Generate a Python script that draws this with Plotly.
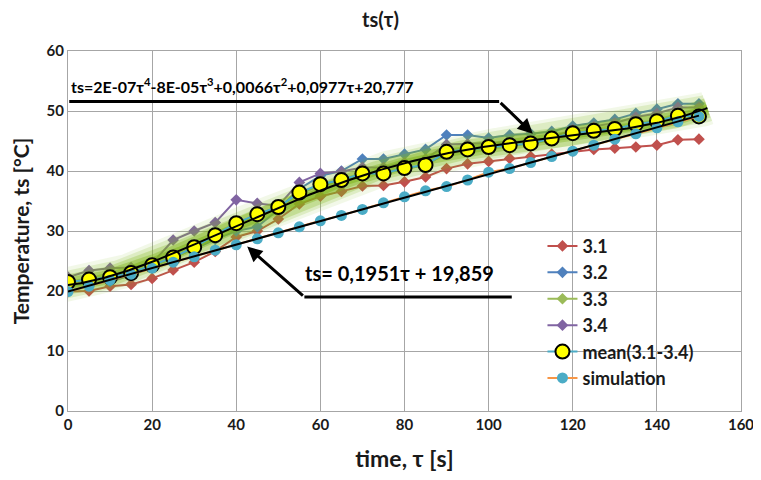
import numpy as np
import plotly.graph_objects as go

tau = [0, 5, 10, 15, 20, 25, 30, 35, 40, 45, 50, 55, 60, 65, 70, 75, 80, 85, 90, 95,
       100, 105, 110, 115, 120, 125, 130, 135, 140, 145, 150]

s31 = [19.9, 20.0, 20.8, 21.1, 22.1, 23.5, 24.8, 26.6, 29.0, 30.0, 32.0, 34.5, 35.8, 36.6,
       37.5, 37.6, 38.2, 39.0, 40.4, 41.2, 41.6, 42.1, 42.4, 42.8, 43.3, 43.6, 43.8, 44.0,
       44.3, 45.2, 45.3]
s32 = [21.0, 21.2, 21.6, 22.6, 24.0, 25.6, 27.0, 28.6, 30.0, 30.7, 33.6, 37.0, 39.2, 40.0,
       42.0, 42.0, 42.8, 43.6, 46.0, 46.0, 45.5, 46.0, 46.2, 46.6, 47.5, 48.0, 48.6, 49.6,
       50.3, 51.2, 51.2]
s33 = [21.5, 21.8, 22.2, 22.9, 24.2, 25.4, 27.2, 29.0, 31.0, 32.5, 34.0, 36.2, 37.6, 38.3,
       39.4, 39.5, 40.4, 40.9, 43.0, 43.5, 44.0, 44.3, 44.6, 45.3, 46.2, 46.6, 47.0, 47.8,
       48.3, 49.2, 49.2]
s34 = [22.3, 23.4, 23.8, 23.9, 24.6, 28.5, 30.0, 31.4, 35.2, 34.6, 34.2, 38.1, 39.6, 39.9,
       40.6, 40.6, 41.4, 42.0, 44.4, 44.5, 44.6, 44.8, 45.1, 45.6, 46.9, 47.4, 48.0, 49.0,
       49.6, 50.6, 50.6]
mean = [21.5, 21.9, 22.3, 23.0, 24.3, 25.6, 27.3, 29.3, 31.3, 32.8, 34.0, 36.4, 37.8, 38.5,
        39.6, 39.6, 40.5, 41.0, 43.2, 43.6, 44.0, 44.3, 44.6, 45.4, 46.3, 46.7, 47.0, 47.8,
        48.3, 49.2, 49.1]
sim = [19.9, 20.8, 21.8, 22.8, 23.8, 24.8, 25.7, 26.8, 27.7, 28.7, 29.7, 30.7, 31.7, 32.6,
       33.6, 34.7, 35.7, 36.7, 37.4, 38.5, 39.8, 40.4, 41.4, 42.4, 43.3, 44.3, 45.3, 46.2,
       47.2, 48.2, 49.1]

eq_poly = "ts=2E-07τ<sup>4</sup>-8E-05τ<sup>3</sup>+0,0066τ<sup>2</sup>+0,0977τ+20,777"
eq_lin = "ts= 0,1951τ + 19,859"

FONT = "Lato, Roboto, sans-serif"
TXT = "#1a1a1a"

fig = go.Figure()

def series(name, y, color):
    fig.add_trace(go.Scatter(
        x=tau, y=y, name="<b>" + name + "</b>", mode="lines+markers",
        line=dict(color=color, width=2),
        marker=dict(symbol="diamond", size=9, color=color),
    ))

series("3.1", s31, "#C0504D")
series("3.2", s32, "#4F81BD")
series("3.3", s33, "#9BBB59")
series("3.4", s34, "#8064A2")

# trendlines
tt = np.linspace(-2, 152, 309)
pc = np.polyfit(tau, mean, 4)
poly_y = np.polyval(pc, tt)
tl = np.linspace(0, 150, 301)
lc = np.polyfit(tau, sim, 1)
lin_y = np.polyval(lc, tl)

# glow around polynomial trendline
for w, a in [(34, 0.10), (27, 0.18), (20, 0.28), (14, 0.40), (8, 0.55)]:
    fig.add_trace(go.Scatter(
        x=tt, y=poly_y, mode="lines", showlegend=False, hoverinfo="skip",
        line=dict(color=f"rgba(130,182,30,{a})", width=w),
    ))

fig.add_trace(go.Scatter(
    x=tau, y=mean, name="<b>mean(3.1-3.4)</b>", mode="lines+markers",
    line=dict(color="#4BACC6", width=2),
    marker=dict(symbol="circle", size=14, color="#FFFF00",
                line=dict(color="black", width=2)),
))
fig.add_trace(go.Scatter(
    x=tau, y=sim, name="<b>simulation</b>", mode="lines+markers",
    line=dict(color="#F79646", width=2),
    marker=dict(symbol="circle", size=11, color="#4BACC6"),
))

fig.add_trace(go.Scatter(
    x=tt, y=poly_y, mode="lines", showlegend=False, hoverinfo="skip",
    line=dict(color="black", width=2),
))
fig.add_trace(go.Scatter(
    x=tl, y=lin_y, mode="lines", showlegend=False, hoverinfo="skip",
    line=dict(color="black", width=2),
))

# callout lines
fig.add_shape(type="line", xref="x", yref="y", x0=0.3, y0=51.6, x1=102.5, y1=51.6,
              line=dict(color="black", width=3))
fig.add_shape(type="line", xref="x", yref="y", x0=56.2, y0=19.0, x1=105.5, y1=19.0,
              line=dict(color="black", width=3))

fig.add_annotation(x=110.5, y=46.2, ax=102.5, ay=51.6, xref="x", yref="y",
                   axref="x", ayref="y", text="", showarrow=True, arrowhead=2,
                   arrowsize=1, arrowwidth=3, arrowcolor="black", standoff=0)
fig.add_annotation(x=42.6, y=27.4, ax=56.2, ay=19.0, xref="x", yref="y",
                   axref="x", ayref="y", text="", showarrow=True, arrowhead=2,
                   arrowsize=1, arrowwidth=3, arrowcolor="black", standoff=0)

fig.add_annotation(x=0.3, y=54.3, xref="x", yref="y", text="<b>" + eq_poly + "</b>",
                   showarrow=False, xanchor="left", yanchor="middle",
                   font=dict(family=FONT, size=16, color="black"))
fig.add_annotation(x=78.8, y=23.0, xref="x", yref="y", text="<b>" + eq_lin + "</b>",
                   showarrow=False, xanchor="center", yanchor="middle",
                   font=dict(family=FONT, size=20, color="black"))

fig.update_layout(
    width=745, height=464,
    margin=dict(l=60, r=12, t=43, b=61),
    paper_bgcolor="white", plot_bgcolor="white",
    title=dict(text="<b>ts(τ)</b>", x=0.5, xanchor="center", y=0.974, yanchor="middle",
               font=dict(family=FONT, size=20, color=TXT)),
    font=dict(family=FONT, color=TXT),
    showlegend=True,
    legend=dict(x=0.705, y=0.509, xanchor="left", yanchor="top",
                bgcolor="rgba(0,0,0,0)", font=dict(family=FONT, size=18, color=TXT),
                tracegroupgap=0, itemwidth=30),
)
fig.update_xaxes(range=[0, 160], dtick=20, showgrid=True, gridcolor="#a6a6a6", gridwidth=1,
                 showline=True, linecolor="#a6a6a6", mirror=True, zeroline=False,
                 ticks="", automargin=False, ticklabeloverflow="allow",
                 tickfont=dict(family=FONT, size=15, color=TXT),
                 tickprefix="<b>", ticksuffix="</b>",
                 title=dict(text="<b>time, τ [s]</b>", font=dict(family=FONT, size=23, color=TXT),
                            standoff=22))
fig.update_yaxes(range=[0, 60], dtick=10, showgrid=True, gridcolor="#a6a6a6", gridwidth=1,
                 showline=True, linecolor="#a6a6a6", mirror=True, zeroline=False,
                 ticks="", automargin=False, ticklabeloverflow="allow",
                 tickfont=dict(family=FONT, size=15, color=TXT),
                 tickprefix="<b>", ticksuffix="</b>",
                 title=dict(text="<b>Temperature, ts [°C]</b>",
                            font=dict(family=FONT, size=21, color=TXT), standoff=12))

fig.write_html("out.html")
